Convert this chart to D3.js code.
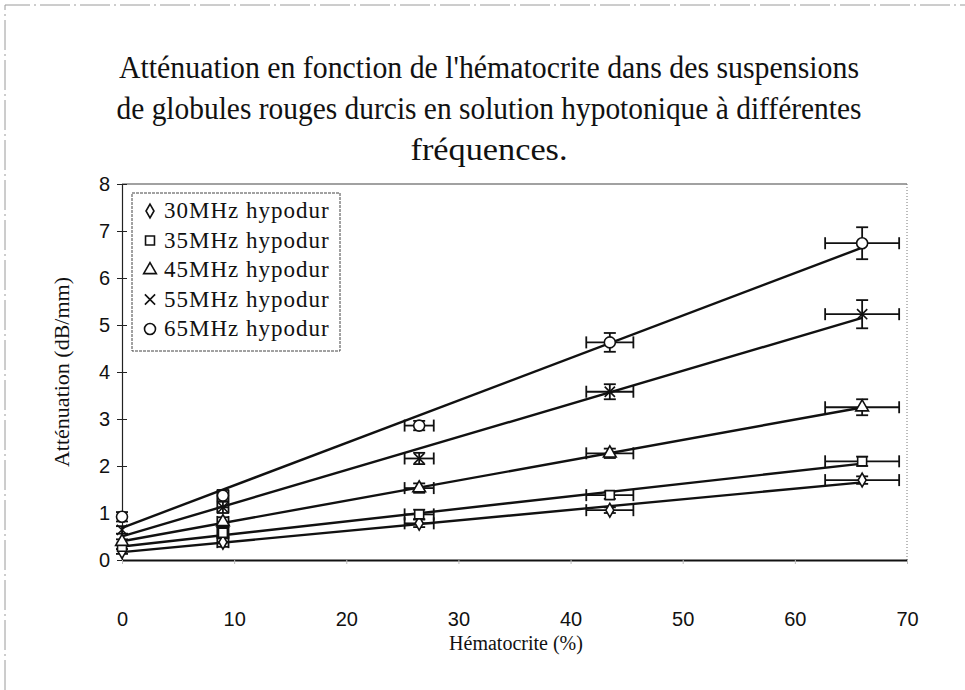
<!DOCTYPE html>
<html lang="fr">
<head>
    <meta charset="UTF-8">
    <title>Atténuation en fonction de l'hématocrite</title>
    <style>
        body {
            margin: 0;
            background-color: white;
        }
        svg {
            display: block;
        }
    </style>
</head>
<body>

    <div id="chart"></div>

    <script src="https://d3js.org/d3.v7.min.js"></script>

    <script>
        // Chart data
        var hematocrit = [0, 9, 26.5, 43.5, 66];      // x values (%)
        var hematoErr = [0, 0.5, 1.3, 2.1, 3.3];      // horizontal error bars

        var seriesNames = ["30MHz hypodur", "35MHz hypodur", "45MHz hypodur", "55MHz hypodur", "65MHz hypodur"];
        var seriesSymbols = ["diamond", "square", "triangle", "cross", "circle"];

        var att30 = [0.18, 0.38, 0.78, 1.06, 1.70];
        var att35 = [0.28, 0.58, 0.97, 1.38, 2.10];
        var att45 = [0.39, 0.81, 1.53, 2.27, 3.25];
        var att55 = [0.64, 1.12, 2.16, 3.58, 5.23];
        var att65 = [0.92, 1.37, 2.86, 4.63, 6.74];

        var err30 = [0.05, 0.10, 0.08, 0.06, 0.08];
        var err35 = [0.05, 0.12, 0.10, 0.08, 0.10];
        var err45 = [0.05, 0.10, 0.10, 0.10, 0.17];
        var err55 = [0.08, 0.12, 0.12, 0.16, 0.30];
        var err65 = [0.10, 0.12, 0.10, 0.20, 0.34];

        var xTicks = [0, 10, 20, 30, 40, 50, 60, 70];
        var yTicks = [0, 1, 2, 3, 4, 5, 6, 7, 8];

        var titleLines = [
            "Atténuation en fonction de l'hématocrite dans des suspensions",
            "de globules rouges durcis en solution hypotonique à différentes",
            "fréquences."
        ];

        var series = [att30, att35, att45, att55, att65].map(function(vals, i) {
            var errs = [err30, err35, err45, err55, err65][i];
            return {
                name: seriesNames[i],
                symbol: seriesSymbols[i],
                points: vals.map(function(v, j) {
                    return { x: hematocrit[j], y: v, ex: hematoErr[j], ey: errs[j] };
                })
            };
        });

        var w = 965, h = 690;

        var svg = d3.select("#chart")
            .append("svg")
            .attr("width", w)
            .attr("height", h);

        // outer frame (only top and left visible)
        svg.append("path")
            .attr("d", "M5,690 L5,5 L965,5")
            .attr("fill", "none")
            .attr("stroke", "#9a9a9a")
            .attr("stroke-width", 1)
            .attr("stroke-dasharray", "30,4,2,4");

        var x = d3.scaleLinear().domain([0, 70]).range([122, 907]);
        var y = d3.scaleLinear().domain([0, 8]).range([560, 184]);

        // title
        var tw = [740, 745, 157];
        svg.append("g").selectAll("text")
            .data(titleLines)
            .enter()
            .append("text")
            .attr("x", 489)
            .attr("y", function(d, i) { return 78 + i * 41; })
            .attr("text-anchor", "middle")
            .attr("font-family", "'Liberation Serif', 'Times New Roman', serif")
            .attr("font-size", 31)
            .attr("textLength", function(d, i) { return tw[i]; })
            .attr("lengthAdjust", "spacingAndGlyphs")
            .attr("fill", "#111")
            .text(function(d) { return d; });

        // plot frame: top solid, right dotted
        svg.append("line")
            .attr("x1", x(0)).attr("x2", x(70))
            .attr("y1", y(8)).attr("y2", y(8))
            .attr("stroke", "#444").attr("stroke-width", 1.2);
        svg.append("line")
            .attr("x1", x(70)).attr("x2", x(70))
            .attr("y1", y(8)).attr("y2", y(0))
            .attr("stroke", "#777").attr("stroke-width", 1)
            .attr("stroke-dasharray", "1,2");

        // axes
        var yAxis = svg.append("g")
            .attr("transform", "translate(" + x(0) + ",0)")
            .call(d3.axisLeft(y).tickValues(yTicks).tickSize(0).tickPadding(12).tickFormat(d3.format("d")));
        yAxis.select(".domain").attr("stroke", "#222").attr("stroke-width", 1.2);
        yAxis.selectAll(".tick line").attr("x1", -5).attr("x2", 5).attr("stroke", "#222");
        yAxis.selectAll("text")
            .attr("font-family", "'Liberation Sans Narrow', 'Liberation Sans', Arial, sans-serif")
            .attr("font-size", 20)
            .attr("fill", "#111");

        var xAxis = svg.append("g")
            .attr("transform", "translate(0," + y(0) + ")")
            .call(d3.axisBottom(x).tickValues(xTicks).tickSize(0).tickPadding(52).tickFormat(d3.format("d")));
        xAxis.select(".domain").attr("stroke", "#111").attr("stroke-width", 2.2);
        xAxis.selectAll(".tick line").attr("y1", 0).attr("y2", 4).attr("stroke", "#bbb");
        xAxis.selectAll("text")
            .attr("font-family", "'Liberation Sans Narrow', 'Liberation Sans', Arial, sans-serif")
            .attr("font-size", 20)
            .attr("fill", "#111");

        // axis titles
        svg.append("text")
            .attr("transform", "translate(69,372) rotate(-90)")
            .attr("text-anchor", "middle")
            .attr("font-family", "'Liberation Serif', 'Times New Roman', serif")
            .attr("font-size", 22)
            .attr("fill", "#111")
            .text("Atténuation (dB/mm)");

        svg.append("text")
            .attr("x", 516)
            .attr("y", 650)
            .attr("text-anchor", "middle")
            .attr("font-family", "'Liberation Serif', 'Times New Roman', serif")
            .attr("font-size", 20)
            .attr("fill", "#111")
            .text("Hématocrite (%)");

        // linear trendlines (least squares over each series)
        function fit(points) {
            var mx = d3.mean(points, function(p) { return p.x; });
            var my = d3.mean(points, function(p) { return p.y; });
            var sxy = d3.sum(points, function(p) { return (p.x - mx) * (p.y - my); });
            var sxx = d3.sum(points, function(p) { return (p.x - mx) * (p.x - mx); });
            var b = sxy / sxx;
            return { a: my - b * mx, b: b };
        }

        var trend = svg.append("g");
        series.forEach(function(s) {
            var f = fit(s.points);
            var x0 = d3.min(hematocrit), x1 = d3.max(hematocrit);
            trend.append("line")
                .attr("x1", x(x0)).attr("y1", y(f.a + f.b * x0))
                .attr("x2", x(x1)).attr("y2", y(f.a + f.b * x1))
                .attr("stroke", "#111")
                .attr("stroke-width", 2.4);
        });

        // error bars
        var eb = svg.append("g").attr("stroke", "#111").attr("stroke-width", 1.8);
        series.forEach(function(s) {
            s.points.forEach(function(p) {
                if (p.ex > 0) {
                    eb.append("line")
                        .attr("x1", x(p.x - p.ex)).attr("x2", x(p.x + p.ex))
                        .attr("y1", y(p.y)).attr("y2", y(p.y));
                    [p.x - p.ex, p.x + p.ex].forEach(function(v) {
                        eb.append("line")
                            .attr("x1", x(v)).attr("x2", x(v))
                            .attr("y1", y(p.y) - 6).attr("y2", y(p.y) + 6);
                    });
                }
                eb.append("line")
                    .attr("x1", x(p.x)).attr("x2", x(p.x))
                    .attr("y1", y(p.y + p.ey)).attr("y2", y(p.y - p.ey));
                [p.y - p.ey, p.y + p.ey].forEach(function(v) {
                    eb.append("line")
                        .attr("x1", x(p.x) - 6).attr("x2", x(p.x) + 6)
                        .attr("y1", y(v)).attr("y2", y(v));
                });
            });
        });

        // marker shapes
        var symbolTypes = {
            diamond: d3.symbolDiamond,
            square: d3.symbolSquare,
            triangle: d3.symbolTriangle,
            cross: d3.symbolTimes,
            circle: d3.symbolCircle
        };
        var symbolSizes = { diamond: 55, square: 80, triangle: 70, cross: 70, circle: 95 };

        function marker(sym) {
            return d3.symbol().type(symbolTypes[sym]).size(symbolSizes[sym])();
        }

        var marks = svg.append("g");
        series.forEach(function(s) {
            marks.selectAll(null)
                .data(s.points)
                .enter()
                .append("path")
                .attr("transform", function(p) { return "translate(" + x(p.x) + "," + y(p.y) + ")"; })
                .attr("d", marker(s.symbol))
                .attr("fill", s.symbol === "cross" ? "none" : "white")
                .attr("stroke", "#111")
                .attr("stroke-width", 1.6);
        });

        // legend
        var legend = svg.append("g").attr("transform", "translate(132,193)");
        legend.append("rect")
            .attr("width", 208).attr("height", 158)
            .attr("fill", "white")
            .attr("stroke", "#444")
            .attr("stroke-width", 1)
            .attr("stroke-dasharray", "3,1");

        var items = legend.selectAll("g.item")
            .data(series)
            .enter()
            .append("g")
            .attr("class", "item")
            .attr("transform", function(d, i) { return "translate(0," + (17 + i * 29.5) + ")"; });

        items.append("path")
            .attr("transform", "translate(18,1)")
            .attr("d", function(d) { return marker(d.symbol); })
            .attr("fill", "white")
            .attr("stroke", "#111")
            .attr("stroke-width", 1.6);

        items.append("text")
            .attr("x", 32)
            .attr("y", 8)
            .attr("font-family", "'Liberation Serif', 'Times New Roman', serif")
            .attr("font-size", 23)
            .attr("letter-spacing", 1)
            .attr("fill", "#111")
            .text(function(d) { return d.name; });
    </script>

</body>
</html>
